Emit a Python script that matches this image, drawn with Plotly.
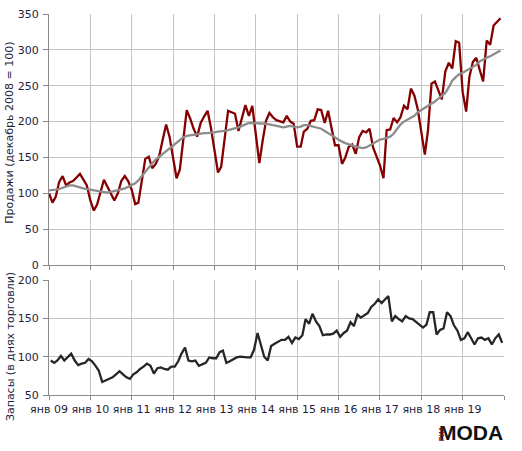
import pandas as pd
import plotly.graph_objects as go

# ---- data (monthly, Jan 2009 .. Dec 2019) ----
START_MONTH = "2009-01-01"
N_MONTHS = 132

sales = [
    100, 87, 95, 116, 124, 111, 115, 117, 122, 127, 119, 111,   # 2009
    90, 76, 84, 101, 119, 109, 100, 90, 100, 117, 124, 117,     # 2010
    105, 85, 87, 118, 148, 151, 135, 141, 152, 174, 196, 179,   # 2011
    150, 121, 133, 175, 216, 204, 190, 179, 198, 207, 215, 191, # 2012
    160, 129, 137, 176, 215, 213, 211, 187, 205, 223, 208, 222, # 2013
    182, 142, 172, 201, 212, 206, 202, 200, 199, 208, 200, 197, # 2014
    165, 165, 186, 190, 201, 202, 217, 216, 198, 215, 189, 167, # 2015
    167, 141, 150, 165, 168, 155, 178, 187, 185, 190, 164, 151, # 2016
    139, 121, 188, 189, 205, 199, 206, 222, 217, 246, 236, 217, # 2017
    186, 154, 188, 253, 256, 244, 231, 270, 282, 274, 312, 310, # 2018
    241, 214, 262, 283, 289, 272, 256, 313, 307, 334, 339, 344, # 2019
]

sales_trend = [
    104, 104, 105, 106, 108, 110, 111, 111, 110, 108, 107, 106,
    105, 104, 103, 102, 101, 101, 102, 103, 104, 106, 107, 109,
    111, 114, 118, 124, 130, 137, 142, 147, 151, 155, 159, 162,
    166, 170, 175, 178, 180, 181, 182, 183, 183, 184, 184, 185,
    185, 186, 186, 187, 188, 189, 191, 192, 194, 196, 198, 198,
    198, 198, 197, 197, 196, 195, 194, 193, 192, 193, 194, 193,
    192, 193, 195, 195, 194, 193, 192, 190, 187, 184, 181, 178,
    175, 172, 170, 168, 167, 165, 164, 163, 164, 167, 170, 173,
    175, 176, 177, 179, 183, 190, 196, 200, 203, 205, 208, 213,
    216, 219, 222, 225, 228, 232, 236, 240, 248, 257, 262, 266,
    268, 271, 273, 276, 279, 284, 287, 289, 291, 294, 297, 299,
]

stocks = [
    95, 92, 95, 101, 95, 99, 104, 95, 89, 91, 92, 97,
    94, 88, 82, 67, 69, 71, 73, 77, 81, 77, 73, 71,
    77, 80, 84, 87, 91, 88, 78, 85, 86, 84, 83, 87,
    87, 94, 104, 112, 95, 94, 95, 88, 90, 92, 99, 98,
    98, 106, 108, 92, 94, 97, 99, 100, 99, 99, 99, 109,
    131, 115, 100, 95, 114, 117, 120, 122, 122, 126, 118, 125,
    123, 128, 149, 143, 156, 146, 140, 128, 129, 129, 130, 134,
    126, 131, 134, 145, 140, 155, 151, 154, 157, 165, 169, 175,
    170, 175, 179, 146, 153, 149, 146, 153, 150, 149, 145, 141,
    138, 142, 158, 158, 129, 135, 137, 158, 153, 141, 134, 122,
    124, 132, 124, 116, 124, 125, 122, 124, 116, 124, 129, 118,
]

tick_years = list(range(2009, 2021))
tick_labels = ["янв 09", "янв 10", "янв 11", "янв 12", "янв 13", "янв 14",
               "янв 15", "янв 16", "янв 17", "янв 18", "янв 19", ""]

title_sales = "Продажи (декабрь 2008 = 100)"
title_stocks = "Запасы (в днях торговли)"

# ---- figure ----
months = pd.date_range(START_MONTH, periods=N_MONTHS, freq="MS")
months_mid = months + pd.Timedelta(days=15)
tickvals = [pd.Timestamp(f"{y}-01-01") for y in tick_years]

FONT = "DejaVu Sans, Verdana, sans-serif"
TXT = "#1e1e3c"
GRID = "#c4c4c4"
AXL = "#8a8a8a"

fig = go.Figure()
fig.add_trace(go.Scatter(x=months, y=sales, mode="lines",
                         line=dict(color="#850000", width=2.3), xaxis="x", yaxis="y",
                         hoverinfo="skip"))
fig.add_trace(go.Scatter(x=months, y=sales_trend, mode="lines",
                         line=dict(color="#8c8c8c", width=2.3), xaxis="x", yaxis="y",
                         hoverinfo="skip"))
fig.add_trace(go.Scatter(x=months_mid, y=stocks, mode="lines",
                         line=dict(color="#262626", width=2.3), xaxis="x2", yaxis="y2",
                         hoverinfo="skip"))

xcommon = dict(type="date", range=[tickvals[0], tickvals[-1]],
               tickmode="array", tickvals=tickvals, ticktext=tick_labels,
               showgrid=True, gridcolor=GRID, gridwidth=1,
               showline=True, linecolor=AXL, linewidth=1,
               ticks="outside", ticklen=4, tickcolor=AXL,
               tickfont=dict(family=FONT, size=11, color=TXT),
               zeroline=False, fixedrange=True)
ycommon = dict(showgrid=True, gridcolor=GRID, gridwidth=1,
               showline=True, linecolor=AXL, linewidth=1,
               ticks="outside", ticklen=5, tickcolor=AXL,
               tickfont=dict(family=FONT, size=11, color=TXT),
               zeroline=False, dtick=50, ticklabelstandoff=2)

fig.update_layout(
    width=522, height=451,
    margin=dict(l=49, r=18, t=8, b=56),
    paper_bgcolor="white", plot_bgcolor="white",
    showlegend=False,
    xaxis=dict(**xcommon, anchor="y", showticklabels=False),
    yaxis=dict(**ycommon, range=[0, 350], domain=[0.3411, 1.0], anchor="x"),
    xaxis2=dict(**xcommon, anchor="y2", matches="x"),
    yaxis2=dict(**ycommon, range=[50, 200], domain=[0.0, 0.3016], anchor="x2"),
    annotations=[
        dict(text=title_sales, textangle=-90, xref="paper", yref="paper",
             x=-0.086, xanchor="center", y=0.688, yanchor="middle", showarrow=False,
             font=dict(family=FONT, size=11, color=TXT)),
        dict(text=title_stocks, textangle=-90, xref="paper", yref="paper",
             x=-0.086, xanchor="center", y=0.128, yanchor="middle", showarrow=False,
             font=dict(family=FONT, size=11, color=TXT)),
        dict(text="<b>MODA</b>", xref="paper", yref="paper",
             x=1.002, xanchor="right", y=-0.098, yanchor="middle", showarrow=False,
             font=dict(family="Liberation Sans, Arial, sans-serif",
                       size=21, color="#111111")),
        dict(text="<b>РИА</b>", textangle=-90, xref="paper", yref="paper",
             x=0.863, xanchor="center", y=-0.101, yanchor="middle", showarrow=False,
             font=dict(family="Liberation Sans, sans-serif",
                       size=7, color="#6a1414")),
    ],
)

fig.write_html("out.html")
